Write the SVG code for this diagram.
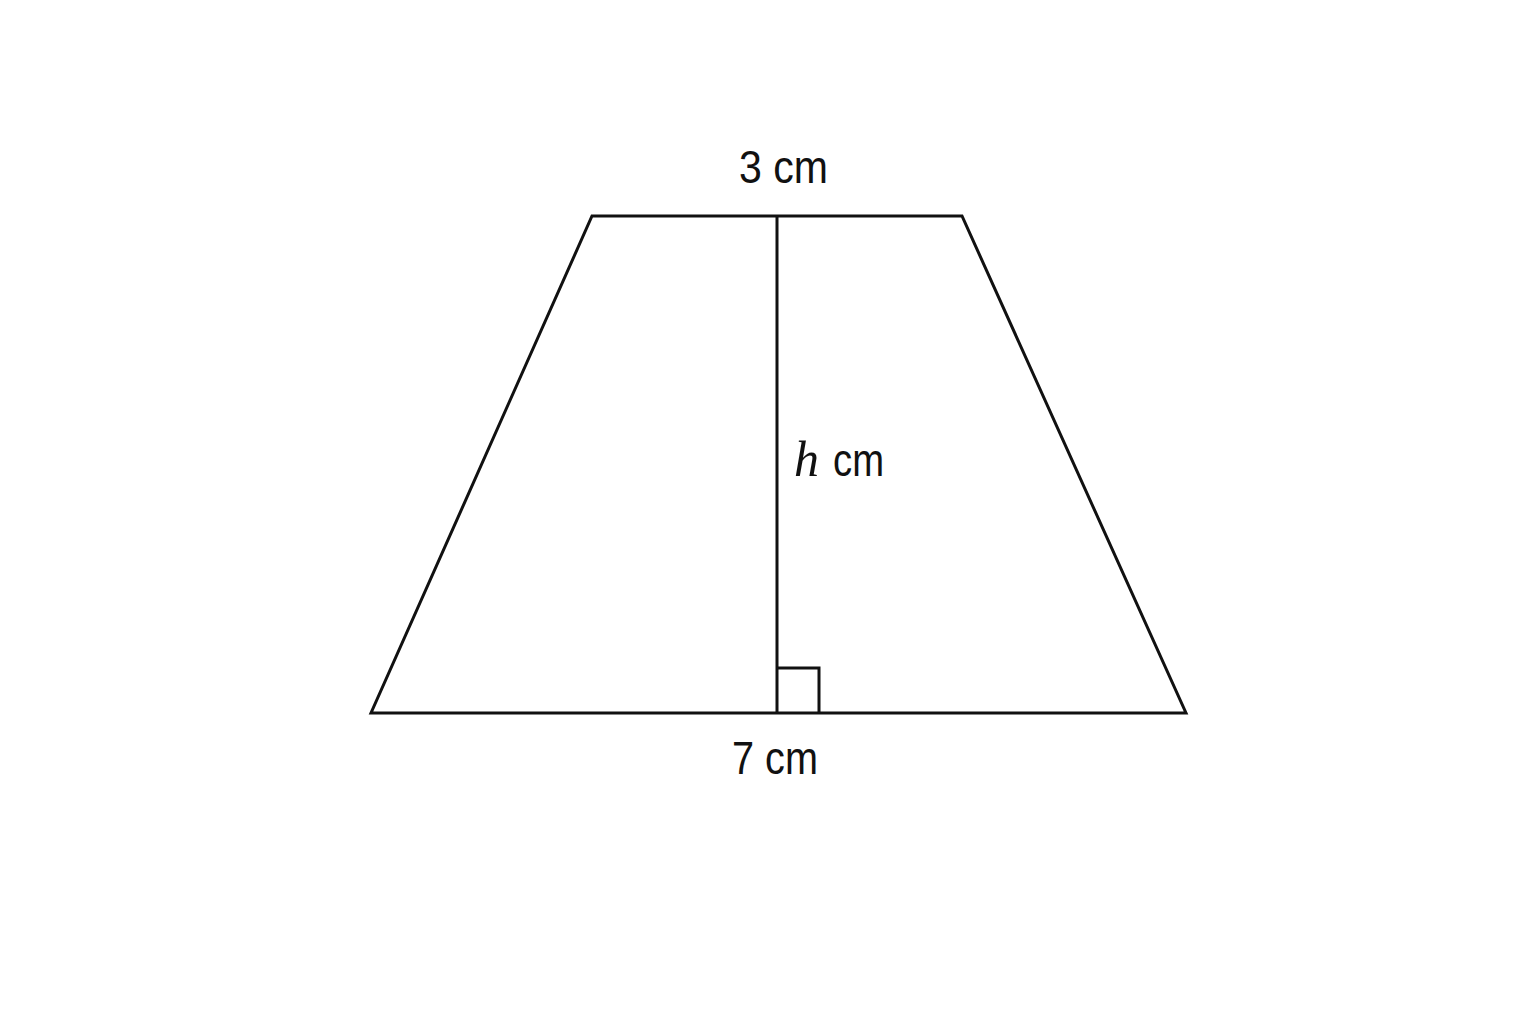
<svg xmlns="http://www.w3.org/2000/svg" width="1536" height="1024" viewBox="0 0 1536 1024">
<style>
.ln{fill:none;stroke:#111;stroke-width:3;stroke-linejoin:miter}
.lb{font-family:"Liberation Sans",Arial,sans-serif;font-size:46px;fill:#111}
.it{font-family:"Liberation Serif","Times New Roman",serif;font-style:italic;font-size:50px;fill:#111}
</style>
<rect width="1536" height="1024" fill="#fff"/>
<g id="trapezoid">
<polygon class="ln" points="592,216 962,216 1186,713 371,713"/>
</g>
<g id="connectors">
<line class="ln" x1="777" y1="216" x2="777" y2="713"/>
<polyline class="ln" points="777,668 819,668 819,713"/>
</g>
<g id="labels">
<text class="lb" x="739" y="183" textLength="89" lengthAdjust="spacingAndGlyphs">3 cm</text>
<text x="794" y="476"><tspan class="it">h</tspan></text>
<text class="lb" x="833" y="476" textLength="51" lengthAdjust="spacingAndGlyphs">cm</text>
<text class="lb" x="732" y="774" textLength="86" lengthAdjust="spacingAndGlyphs">7 cm</text>
</g>
</svg>
